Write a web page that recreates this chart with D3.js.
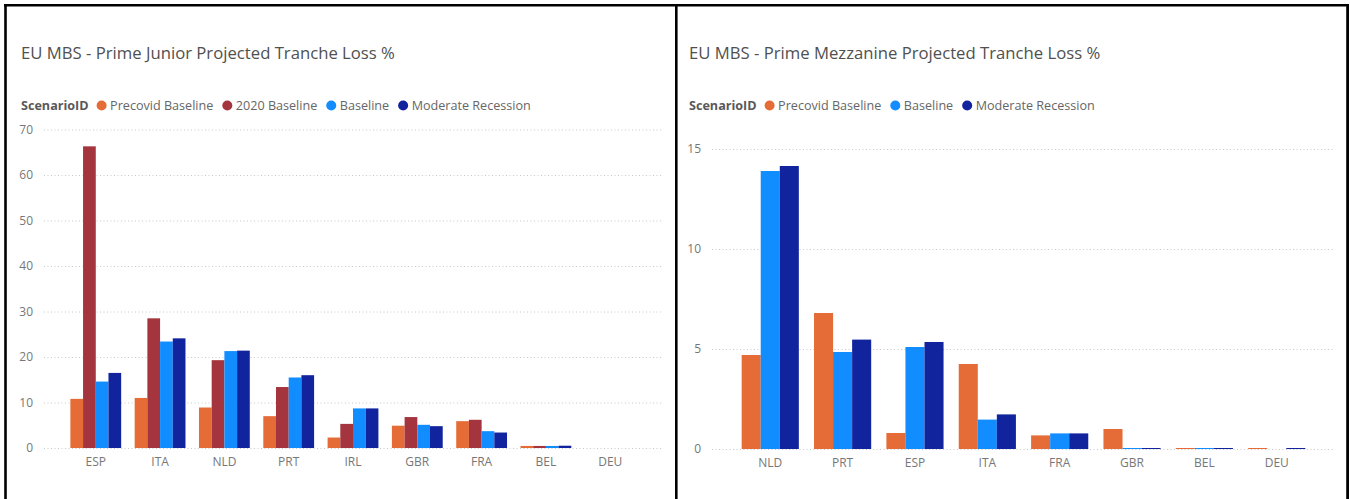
<!DOCTYPE html>
<html>
<head>
<meta charset="utf-8">
<script src="https://cdn.jsdelivr.net/npm/d3@7"></script>
<style>
  html, body { margin: 0; padding: 0; background: #fff; }
  svg { display: block; }
</style>
</head>
<body>
<svg id="chart" width="1350" height="499"></svg>
<script>
// ---- Data ----
const seriesNamesJunior = ["Precovid Baseline", "2020 Baseline", "Baseline", "Moderate Recession"];
const seriesNamesMezz = ["Precovid Baseline", "Baseline", "Moderate Recession"];

const categoriesJunior = ["ESP", "ITA", "NLD", "PRT", "IRL", "GBR", "FRA", "BEL", "DEU"];
const precovidJunior   = [10.8, 11.0, 8.9, 7.0, 2.3, 4.9, 5.9, 0.45, 0];
const b2020Junior      = [66.3, 28.5, 19.3, 13.4, 5.3, 6.8, 6.2, 0.45, 0];
const baselineJunior   = [14.6, 23.4, 21.3, 15.5, 8.7, 5.1, 3.7, 0.45, 0];
const moderateJunior   = [16.5, 24.1, 21.4, 16.0, 8.7, 4.8, 3.4, 0.5, 0];
const yTicksJunior     = [0, 10, 20, 30, 40, 50, 60, 70];

const categoriesMezz = ["NLD", "PRT", "ESP", "ITA", "FRA", "GBR", "BEL", "DEU"];
const precovidMezz   = [4.7, 6.8, 0.8, 4.25, 0.68, 1.0, 0.05, 0.05];
const baselineMezz   = [13.9, 4.85, 5.1, 1.47, 0.78, 0.05, 0.05, 0];
const moderateMezz   = [14.15, 5.47, 5.35, 1.73, 0.78, 0.05, 0.05, 0.05];
const yTicksMezz     = [0, 5, 10, 15];

const colorMap = {
  "Precovid Baseline": "#E66C37",
  "2020 Baseline": "#A4343D",
  "Baseline": "#118DFF",
  "Moderate Recession": "#12239E"
};

const FONT = "'Segoe UI', 'Open Sans', 'Noto Sans', sans-serif";
const svg = d3.select("#chart");

// ---- Frame ----
svg.append("line").attr("x1", 4).attr("x2", 1349).attr("y1", 5.3).attr("y2", 5.3)
  .attr("stroke", "#000").attr("stroke-width", 2.6);
svg.append("line").attr("x1", 5.5).attr("x2", 5.5).attr("y1", 4).attr("y2", 499)
  .attr("stroke", "#000").attr("stroke-width", 2.6);
svg.append("line").attr("x1", 676.3).attr("x2", 676.3).attr("y1", 4).attr("y2", 499)
  .attr("stroke", "#000").attr("stroke-width", 2.6);
svg.append("line").attr("x1", 1347.6).attr("x2", 1347.6).attr("y1", 4).attr("y2", 499)
  .attr("stroke", "#000").attr("stroke-width", 2.8);

function drawPanel(cfg) {
  const g = svg.append("g");
  // title
  g.append("text").attr("x", cfg.left).attr("y", 59)
    .attr("font-family", FONT).attr("font-size", 16.7).attr("fill", "#505050")
    .text(cfg.title);

  // legend
  const leg = g.append("g").attr("font-family", FONT).attr("font-size", 12.6);
  const lt = leg.append("text").attr("x", cfg.left).attr("y", 110)
    .attr("font-weight", "bold").attr("fill", "#595959").text("ScenarioID");
  let lx = cfg.left + lt.node().getComputedTextLength() + 13;
  cfg.series.forEach((name) => {
    leg.append("circle").attr("cx", lx).attr("cy", 105.5).attr("r", 5).attr("fill", colorMap[name]);
    const t = leg.append("text").attr("x", lx + 8.5).attr("y", 110).attr("fill", "#666").text(name);
    lx += 8.5 + t.node().getComputedTextLength() + 14;
  });

  // scales
  const x = d3.scaleBand().domain(cfg.categories).range([cfg.gridX0, cfg.gridX1])
    .paddingInner(0.21).paddingOuter(0.41);
  const xs = d3.scaleBand().domain(cfg.series).range([0, x.bandwidth()]);
  const y = d3.scaleLinear().domain(cfg.domain).range(cfg.yRange);

  // grid
  const yAxis = d3.axisLeft(y).tickValues(cfg.ticks).tickSize(-(cfg.gridX1 - cfg.gridX0)).tickPadding(11);
  const ya = g.append("g").attr("transform", `translate(${cfg.gridX0},0)`).call(yAxis);
  ya.select(".domain").remove();
  ya.selectAll(".tick line").attr("stroke", "#c8c8c8").attr("stroke-dasharray", "1,2.5").attr("stroke-width", 1);
  ya.selectAll(".tick text").attr("font-family", FONT).attr("font-size", 12).attr("fill", "#777");

  // bars
  const rows = cfg.categories.map((c, i) => ({
    cat: c,
    vals: cfg.series.map((s, k) => ({ series: s, value: cfg.values[k][i] }))
  }));
  const grp = g.append("g").selectAll("g").data(rows).join("g")
    .attr("transform", d => `translate(${x(d.cat)},0)`);
  grp.selectAll("rect").data(d => d.vals).join("rect")
    .attr("x", d => xs(d.series))
    .attr("width", xs.bandwidth())
    .attr("y", d => y(d.value))
    .attr("height", d => y(0) - y(d.value))
    .attr("fill", d => colorMap[d.series]);

  // x axis
  const xAxis = d3.axisBottom(x).tickSize(0).tickPadding(9);
  const xa = g.append("g").attr("transform", `translate(0,${y(0)})`).call(xAxis);
  xa.select(".domain").remove();
  xa.selectAll(".tick text").attr("font-family", FONT).attr("font-size", 12).attr("fill", "#777");
}

drawPanel({
  title: "EU MBS - Prime Junior Projected Tranche Loss %",
  left: 21,
  series: seriesNamesJunior,
  categories: categoriesJunior,
  values: [precovidJunior, b2020Junior, baselineJunior, moderateJunior],
  domain: [0, 70],
  yRange: [448, 129.5],
  ticks: yTicksJunior,
  gridX0: 44, gridX1: 662
});

drawPanel({
  title: "EU MBS - Prime Mezzanine Projected Tranche Loss %",
  left: 689,
  series: seriesNamesMezz,
  categories: categoriesMezz,
  values: [precovidMezz, baselineMezz, moderateMezz],
  domain: [0, 15],
  yRange: [449, 149],
  ticks: yTicksMezz,
  gridX0: 712, gridX1: 1335
});
</script>
</body>
</html>
